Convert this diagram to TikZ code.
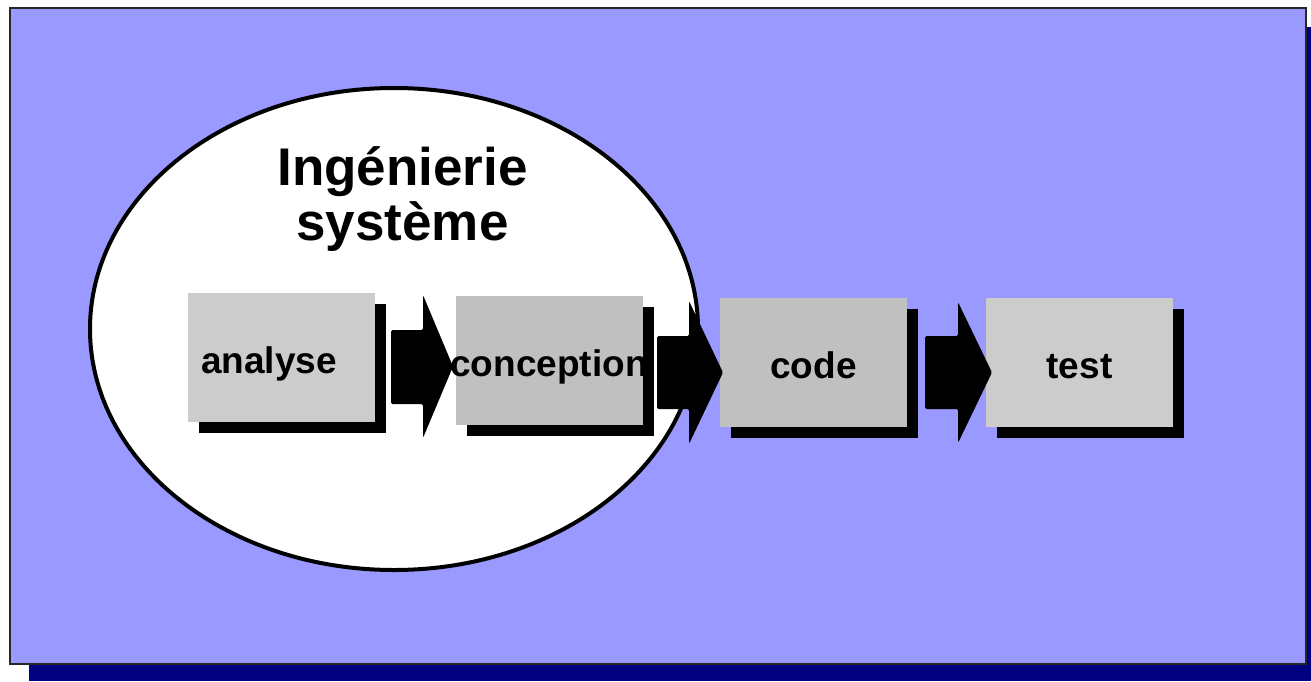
\documentclass[tikz,border=0pt]{standalone}
\usepackage{fontspec}
\setmainfont{Liberation Sans}
\usetikzlibrary{shadows}

\definecolor{panelblue}{HTML}{9999FF}
\definecolor{panelshade}{HTML}{000080}
\definecolor{stagelight}{HTML}{CCCCCC}
\definecolor{stagedark}{HTML}{C0C0C0}

\tikzset{
  stage/.style={rectangle, inner sep=0pt, minimum width=187pt, minimum height=129pt,
    text height=36pt, text depth=4pt,
    font=\bfseries\fontsize{37}{40}\selectfont,
    drop shadow={shadow xshift=11pt, shadow yshift=-11pt, opacity=1, fill=black}},
  headline/.style={anchor=base, inner sep=0pt, font=\bfseries\fontsize{53}{60}\selectfont},
  flowarrow/.style={fill=black, rounded corners=1.5pt},
}

\begin{document}
\begin{tikzpicture}[x=1pt, y=-1pt]
  \useasboundingbox (0,0) rectangle (1311,681);

  % panel with its shadow
  \fill[panelshade] (29,27) rectangle (1311,681);
  \filldraw[fill=panelblue, draw=black!85, line width=1.6pt] (10,8) rectangle (1306,664);

  % system engineering ellipse
  \filldraw[fill=white, draw=black, line width=4pt] (394,329) ellipse [x radius=304, y radius=241];
  \node[headline] (titleA) at (402.5,185) {Ingénierie};
  \node[headline] (titleB) at (402.5,240) {système};

  % stages
  \node[stage, fill=stagelight, text width=161pt, inner xsep=13pt, align=left]
    (analyse) at (281.5,357.5) {analyse};
  \node[stage, fill=stagedark] (conception) at (549,360) {\makebox[0pt]{conception}};
  \node[stage, fill=stagedark] (code) at (813.5,362.5) {\makebox[0pt]{code}};
  \node[stage, fill=stagelight] (test) at (1079.5,362) {\makebox[0pt]{test}};

  % block arrows between the stages
  \fill[flowarrow] (391,330) -- (423,330) -- (423,295) -- (453,366.5)
    -- (423,438) -- (423,404) -- (391,404) -- cycle;
  \fill[flowarrow] (657,336) -- (689,336) -- (689,301) -- (723,372.5)
    -- (689,444) -- (689,409) -- (657,409) -- cycle;
  \fill[flowarrow] (925,336) -- (958,336) -- (958,302) -- (992,372.5)
    -- (958,443) -- (958,409) -- (925,409) -- cycle;
\end{tikzpicture}
\end{document}
